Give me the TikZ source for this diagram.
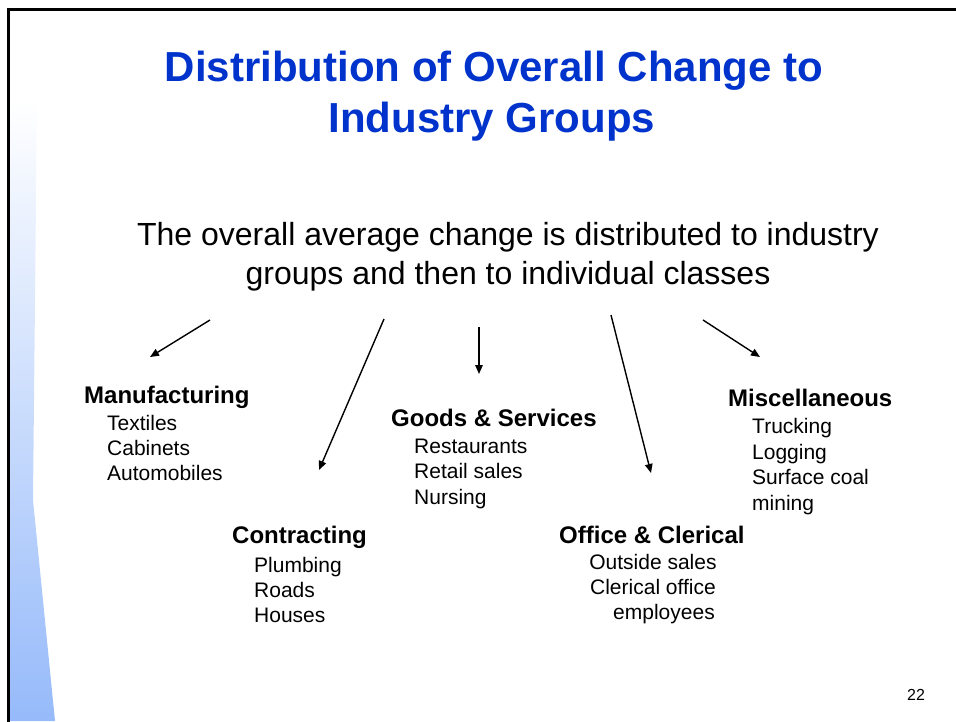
\documentclass[tikz,border=0pt]{standalone}
\usepackage{fontspec}
\setmainfont{Liberation Sans}
\usetikzlibrary{arrows.meta}
\definecolor{titleblue}{RGB}{0,51,204}
\definecolor{barblue}{RGB}{150,186,250}
\begin{document}
\begin{tikzpicture}[x=1pt,y=-1pt,
  titletext/.style={anchor=base,inner sep=0pt,text=titleblue,font=\fontsize{42}{51}\selectfont\bfseries},
  subtext/.style={anchor=base,inner sep=0pt,font=\fontsize{32}{39}\selectfont},
  grouphead/.style={anchor=base west,inner sep=0pt,font=\fontsize{24}{29}\selectfont\bfseries},
  groupitem/.style={anchor=base west,inner sep=0pt,font=\fontsize{21}{25}\selectfont},
  centeritem/.style={anchor=base,inner sep=0pt,font=\fontsize{21}{25}\selectfont},
  flow/.style={line width=1.4pt,-{Triangle[length=9pt,width=7.5pt]}}]
\useasboundingbox (0,0) rectangle (956,721);
% left blue bar
\shade[top color=white,bottom color=barblue] (9.5,100) -- (37,100) -- (33,500) -- (55,721) -- (9.5,721) -- cycle;
% frame
\draw[line width=2.5pt] (8.7,722) -- (8.7,9.3) -- (957,9.3);
% title
\node[titletext] (t1) at (494,81) {Distribution of Overall Change to};
\node[titletext] (t2) at (492,132) {Industry Groups};
% subtitle
\node[subtext] (s1) at (508,245) {The overall average change is distributed to industry};
\node[subtext] (s2) at (508,284) {groups and then to individual classes};
% groups
\node[grouphead] (manu) at (84,403) {Manufacturing};
\node[groupitem] (m1) at (107,430) {Textiles};
\node[groupitem] (m2) at (107,455) {Cabinets};
\node[groupitem] (m3) at (107,480) {Automobiles};
\node[grouphead] (goods) at (391,426) {Goods \& Services};
\node[groupitem] (g1) at (414,453) {Restaurants};
\node[groupitem] (g2) at (414,478) {Retail sales};
\node[groupitem] (g3) at (414,504) {Nursing};
\node[grouphead] (misc) at (728,406) {Miscellaneous};
\node[groupitem] (x1) at (752,433) {Trucking};
\node[groupitem] (x2) at (752,459) {Logging};
\node[groupitem] (x3) at (752,484) {Surface coal};
\node[groupitem] (x4) at (752,510) {mining};
\node[grouphead] (contr) at (232,543) {Contracting};
\node[groupitem] (c1) at (254,572) {Plumbing};
\node[groupitem] (c2) at (254,597) {Roads};
\node[groupitem] (c3) at (254,622) {Houses};
\node[grouphead] (office) at (559,543) {Office \& Clerical};
\node[centeritem] (o1) at (653,569) {Outside sales};
\node[centeritem] (o2) at (653,594) {Clerical office};
\node[centeritem] (o3) at (664,619) {employees};
% page number
\node[anchor=base,inner sep=0pt,font=\fontsize{16}{19}\selectfont] (pg) at (916,700) {22};
% arrows
\coordinate (a1s) at (210,320); \coordinate (a1e) at (150,357);
\coordinate (a2s) at (384,319); \coordinate (a2e) at (319,470);
\coordinate (a3s) at (479,327); \coordinate (a3e) at (479,374);
\coordinate (a4s) at (611,315); \coordinate (a4e) at (651,473);
\coordinate (a5s) at (703,320); \coordinate (a5e) at (760,357);
\draw[flow] (a1s) -- (a1e);
\draw[flow] (a2s) -- (a2e);
\draw[flow] (a3s) -- (a3e);
\draw[flow] (a4s) -- (a4e);
\draw[flow] (a5s) -- (a5e);
\end{tikzpicture}
\end{document}
